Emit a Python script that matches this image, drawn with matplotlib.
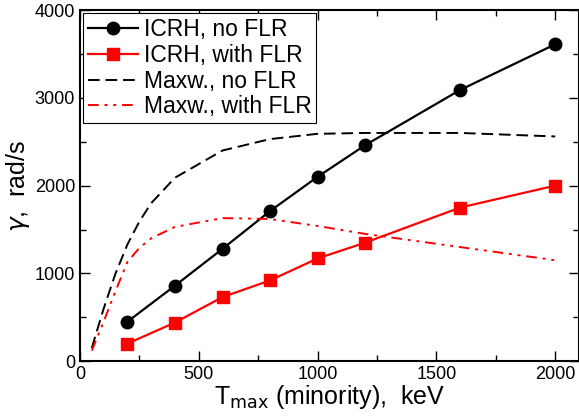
import numpy as np
import matplotlib.pyplot as plt
from matplotlib.ticker import MultipleLocator

plt.rcParams['font.family'] = ['Liberation Sans', 'DejaVu Sans']

# ICRH distribution (markers)
t_icrh = [200, 400, 600, 800, 1000, 1200, 1600, 2000]
g_icrh_noflr = [450, 860, 1280, 1710, 2100, 2460, 3090, 3610]
g_icrh_flr = [200, 440, 730, 920, 1170, 1350, 1750, 2000]

# Maxwellian curves
t_maxw = [50, 100, 150, 200, 250, 300, 400, 600, 800, 1000, 1200, 1600, 2000]
g_maxw_noflr = [150, 600, 1000, 1330, 1590, 1800, 2090, 2400, 2530, 2590, 2600, 2600, 2560]
g_maxw_flr = [120, 450, 800, 1130, 1290, 1400, 1530, 1630, 1620, 1540, 1450, 1300, 1150]

fig = plt.figure(figsize=(5.79, 4.19), dpi=100)
ax = fig.add_axes([0.138, 0.138, 0.862, 0.838])

ax.plot(t_icrh, g_icrh_noflr, '-o', color='black', lw=1.6, ms=9, label='ICRH, no FLR')
ax.plot(t_icrh, g_icrh_flr, '-s', color='red', lw=1.6, ms=8, label='ICRH, with FLR')
ax.plot(t_maxw, g_maxw_noflr, '--', color='black', lw=1.4, dashes=(6, 3), label='Maxw., no FLR')
ax.plot(t_maxw, g_maxw_flr, '-.', color='red', lw=1.4, dashes=(5.5, 3, 1.5, 3, 1.5, 3), label='Maxw., with FLR')

ax.set_xlim(0, 2100)
ax.set_ylim(0, 4000)
ax.xaxis.set_major_locator(MultipleLocator(500))
ax.xaxis.set_minor_locator(MultipleLocator(250))
ax.yaxis.set_major_locator(MultipleLocator(1000))
ax.yaxis.set_minor_locator(MultipleLocator(500))
ax.tick_params(which='both', direction='in', top=True, right=True, labelsize=13)
ax.tick_params(which='major', length=7, width=1)
ax.tick_params(which='minor', length=4, width=1)
for s in ax.spines.values():
    s.set_linewidth(1.5)

ax.set_xlabel('T$_{\\mathrm{max}}$ (minority),  keV', fontsize=18, labelpad=0)
ax.set_ylabel('$\\gamma$,  rad/s', fontsize=18, labelpad=2)

leg = ax.legend(loc='upper left', fontsize=16.5, fancybox=False, framealpha=1,
                borderpad=0.2, labelspacing=0.12, handlelength=2.2, handletextpad=0.25,
                borderaxespad=0.15)
leg.get_frame().set_edgecolor('black')
leg.get_frame().set_linewidth(0.8)

fig.savefig('out.png', dpi=100)
